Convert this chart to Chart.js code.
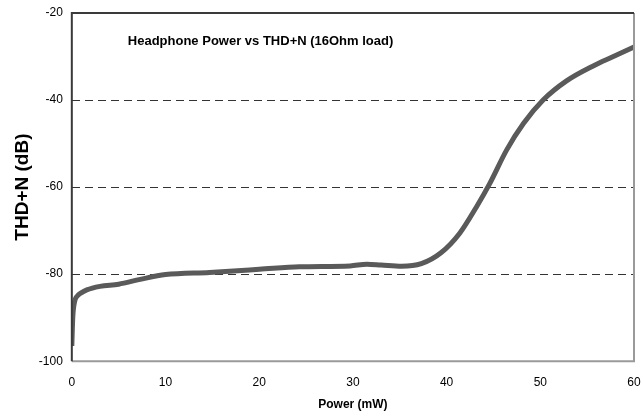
<!DOCTYPE html>
<html>
<head>
<meta charset="utf-8">
<script src="https://cdn.jsdelivr.net/npm/chart.js@4.4.1/dist/chart.umd.min.js"></script>
<style>
  html, body { margin: 0; padding: 0; background: #fff; }
  #wrap { width: 644px; height: 419px; }
</style>
</head>
<body>
<div id="wrap"><canvas id="thdChart"></canvas></div>
<script>
// Datos
const powerMw = [0, 0.1, 0.3, 0.6, 1, 1.6, 3, 5, 7.3, 10, 14.7, 20, 24.3, 29.7, 31.5, 33, 35.2, 37.3, 39.4, 41.4, 43.2, 44.6, 46.4, 48.2, 50.3, 52.8, 55.7, 57.8, 60];
const thdDb = [-96.5, -90, -86.3, -85, -84.3, -83.6, -82.8, -82.3, -81.2, -80.1, -79.6, -78.9, -78.3, -78.1, -77.7, -77.9, -78.2, -77.6, -75.1, -70.6, -64.5, -59.2, -51.5, -45.4, -40, -35.6, -32.1, -30, -27.8];
const xTicks = [0, 10, 20, 30, 40, 50, 60];
const yTicks = [-100, -80, -60, -40, -20];
const dashedLevels = [-40, -60, -80];

const points = powerMw.map((p, i) => ({ x: p, y: thdDb[i] }));

// Marco del área de dibujo
const frame = {
    id: 'frame',
    afterDatasetsDraw(chart) {
        const { ctx, chartArea: a } = chart;
        ctx.save();
        ctx.lineWidth = 2;
        ctx.strokeStyle = '#9a9a9a';
        ctx.beginPath();
        ctx.moveTo(a.left, a.bottom);
        ctx.lineTo(a.right, a.bottom);
        ctx.lineTo(a.right, a.top);
        ctx.stroke();
        ctx.strokeStyle = '#3a3a3a';
        ctx.beginPath();
        ctx.moveTo(a.left, a.bottom);
        ctx.lineTo(a.left, a.top);
        ctx.lineTo(a.right, a.top);
        ctx.stroke();
        ctx.fillStyle = '#000';
        ctx.font = 'bold 13px "Liberation Sans", Arial, sans-serif';
        ctx.textBaseline = 'middle';
        ctx.fillText('Headphone Power vs THD+N (16Ohm load)', a.left + 56, a.top + 28);
        ctx.restore();
    }
};

const ctx = document.getElementById('thdChart').getContext('2d');
new Chart(ctx, {
    type: 'line',
    data: {
        datasets: [{
            data: points,
            borderColor: '#5a5a5a',
            borderWidth: 5,
            pointRadius: 0,
            fill: false,
            cubicInterpolationMode: 'monotone'
        }]
    },
    options: {
        responsive: true,
        maintainAspectRatio: false,
        animation: false,
        layout: { padding: { left: 11, right: 10, top: 13, bottom: 7 } },
        plugins: { legend: { display: false }, tooltip: { enabled: false } },
        scales: {
            x: {
                type: 'linear',
                min: 0,
                max: 60,
                afterBuildTicks: s => { s.ticks = xTicks.map(v => ({ value: v })); },
                afterFit: s => { s.paddingLeft = 0; s.paddingRight = 0; },
                grid: { display: false },
                border: { display: false },
                ticks: { color: '#000', font: { family: '"Liberation Sans", Arial', size: 12 }, padding: 6 },
                title: {
                    display: true,
                    text: 'Power (mW)',
                    color: '#000',
                    font: { family: '"Liberation Sans", Arial', size: 12, weight: 'bold' },
                    padding: { top: 2, bottom: 0 }
                }
            },
            y: {
                min: -100,
                max: -20,
                afterBuildTicks: s => { s.ticks = yTicks.map(v => ({ value: v })); },
                afterFit: s => { s.paddingTop = 0; s.paddingBottom = 0; },
                grid: {
                    color: c => dashedLevels.includes(c.tick && c.tick.value) ? '#333' : 'rgba(0,0,0,0)',
                    lineWidth: 1,
                    drawTicks: false
                },
                border: { display: false, dash: [8, 5] },
                ticks: { color: '#000', font: { family: '"Liberation Sans", Arial', size: 12, lineHeight: 1 }, padding: 9 },
                title: {
                    display: true,
                    text: 'THD+N (dB)',
                    color: '#000',
                    font: { family: '"Liberation Sans", Arial', size: 19, weight: 'bold' },
                    padding: { top: 0, bottom: -4 }
                }
            }
        }
    },
    plugins: [frame]
});
</script>
</body>
</html>
